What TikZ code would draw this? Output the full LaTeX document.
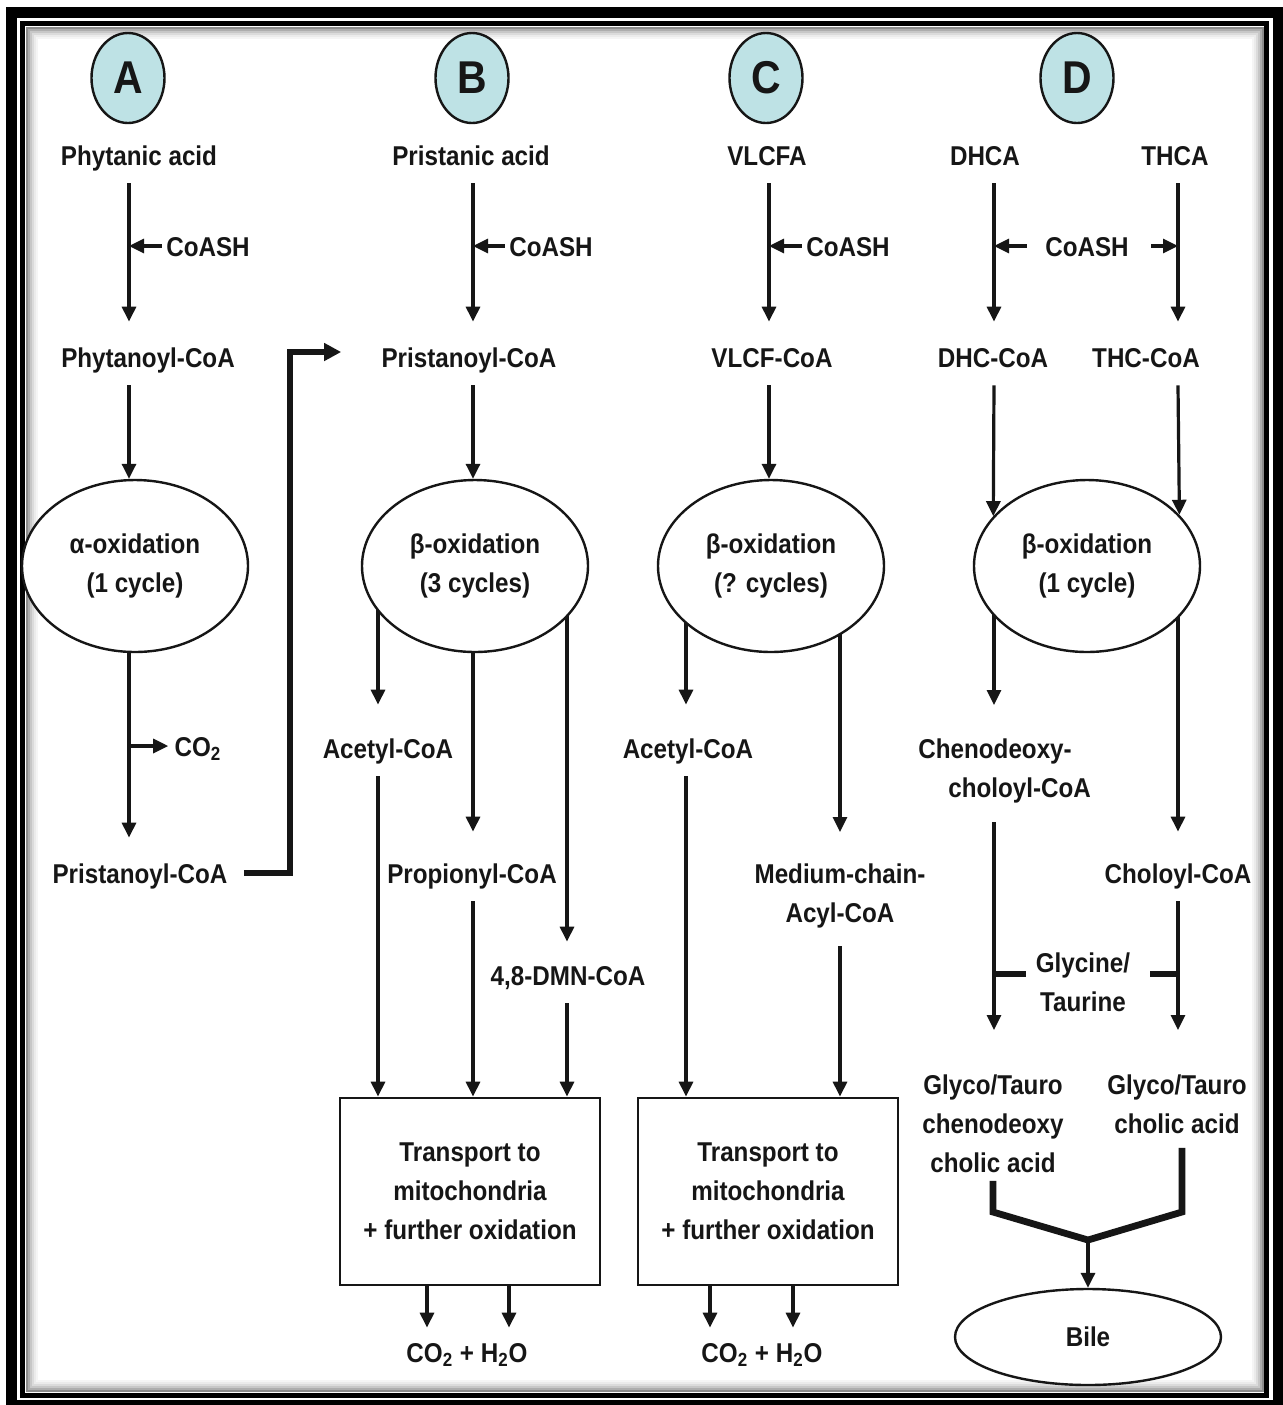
\documentclass[tikz,border=0pt]{standalone}
\usepackage{fontspec}
\setmainfont{Liberation Sans}[FakeStretch=0.89]
\usetikzlibrary{arrows.meta,shapes.geometric,backgrounds}
\definecolor{ink}{RGB}{22,22,22}
\definecolor{badgefill}{RGB}{190,226,229}

\begin{document}
\begin{tikzpicture}[x=0.5pt,y=-0.5pt,
  lbl/.style={font=\bfseries\fontsize{13.6}{19.5}\selectfont, text=ink},
  txt/.style={lbl, text height=10pt, text depth=0pt, inner ysep=9pt, inner xsep=2pt},
  mtxt/.style={lbl, align=center, inner ysep=0pt, inner xsep=2pt},
  badge/.style={ellipse, draw=ink, line width=1.2pt, fill=badgefill,
    minimum width=36.5pt, minimum height=45pt, inner sep=0pt,
    font=\bfseries\fontsize{23}{23}\selectfont, text=ink},
  oval/.style={mtxt, ellipse, draw=ink, line width=1.2pt, fill=white,
    minimum width=113pt, minimum height=86pt, inner sep=0pt},
  panel/.style={mtxt, rectangle, draw=ink, line width=1.4pt, fill=white,
    minimum width=130pt, minimum height=93.5pt, inner sep=0pt},
  arr/.style={draw=ink, line width=1.6pt, -{Triangle[length=7.5pt,width=7pt]}, shorten >=3.5pt},
  heavy/.style={draw=ink, line width=3.4pt, line join=miter},
  heavyarr/.style={heavy, -{Triangle[length=8.5pt,width=8.5pt]}}
]
\useasboundingbox (0,0) rectangle (1283,1405);

% double frame with inner shade
\begin{scope}[on background layer]
  \fill[black] (6,7) rectangle (1283,1405);
  \fill[white] (17,18) rectangle (1273,1400);
  \draw[black, line width=2.5pt] (22.5,23.5) rectangle (1266.5,1395);
  \foreach \d/\c in {4/45,6/32,8/22,10/14,12/8,14/4}
    \draw[black!\c, line width=1pt] (22.5+\d,23.5+\d) rectangle (1266.5-\d,1395-\d);
\end{scope}

% column positions of the vertical connectors
\foreach \n/\x in {xA/129, xBa/378, xB/473, xBd/567, xCa/686, xC/769, xCm/840,
                   xDl/994, xDr/1178, xO1/427, xO2/509, xO3/710, xO4/793, xElb/290}
  \coordinate (\n) at (\x,0);
\coordinate (mL) at (993,1212);
\coordinate (mR) at (1182,1212);
\coordinate (merge) at (1088,1240);

% pathway badges
\node[badge] (bA) at (128,78) {A};
\node[badge] (bB) at (472,78) {B};
\node[badge] (bC) at (766,78) {C};
\node[badge] (bD) at (1077,78) {D};

% substrates
\node[txt] (phy)  at (139,155) {Phytanic acid};
\node[txt] (pri)  at (471,155) {Pristanic acid};
\node[txt] (vlc)  at (767,155) {VLCFA};
\node[txt] (dhca) at (985,155) {DHCA};
\node[txt] (thca) at (1175,155) {THCA};

% CoASH activation
\node[txt] (coaA) at (208,246) {CoASH};
\node[txt] (coaB) at (551,246) {CoASH};
\node[txt] (coaC) at (848,246) {CoASH};
\node[txt] (coaD) at (1087,246) {CoASH};

% CoA esters
\node[txt] (phyCoA) at (148,357) {Phytanoyl-CoA};
\node[txt] (priCoA) at (469,357) {Pristanoyl-CoA};
\node[txt] (vlcCoA) at (772,357) {VLCF-CoA};
\node[txt] (dhcCoA) at (993,357) {DHC-CoA};
\node[txt] (thcCoA) at (1146,357) {THC-CoA};

% oxidation steps
\node[oval] (ellA) at (135,566) {α-oxidation\\(1 cycle)};
\node[oval] (ellB) at (475,566) {β-oxidation\\(3 cycles)};
\node[oval] (ellC) at (771,566) {β-oxidation\\(? cycles)};
\node[oval] (ellD) at (1087,566) {β-oxidation\\(1 cycle)};

% products
\node[txt] (co2A)    at (198,746) {CO\textsubscript{2}};
\node[txt] (priCoA2) at (140,873) {Pristanoyl-CoA};
\node[txt] (acB)     at (388,748) {Acetyl-CoA};
\node[txt] (propB)   at (472,873) {Propionyl-CoA};
\node[txt] (dmn)     at (568,975) {4,8-DMN-CoA};
\node[txt] (acC)     at (688,748) {Acetyl-CoA};
\node[mtxt, anchor=north] (med) at (840,863) {Medium-chain-\\Acyl-CoA};
\node[mtxt, align=left, anchor=north west] (chen) at (914,738)
  {Chenodeoxy-\\\hspace*{15pt}choloyl-CoA};
\node[txt] (chol) at (1178,873) {Choloyl-CoA};
\node[mtxt, anchor=north] (gly) at (1083,952) {Glycine/\\Taurine};
\node[mtxt, anchor=north] (gcA) at (993,1074) {Glyco/Tauro\\chenodeoxy\\cholic acid};
\node[mtxt, anchor=north] (gcB) at (1177,1074) {Glyco/Tauro\\cholic acid};

% mitochondrial oxidation
\node[panel] (panB) at (470,1191.5) {Transport to\\mitochondria\\+ further oxidation};
\node[panel] (panC) at (768,1191.5) {Transport to\\mitochondria\\+ further oxidation};
\node[txt] (cwB) at (467,1352) {CO\textsubscript{2} + H\textsubscript{2}O};
\node[txt] (cwC) at (762,1352) {CO\textsubscript{2} + H\textsubscript{2}O};

% bile
\node[mtxt, ellipse, draw=ink, line width=1.2pt, fill=white, inner sep=0pt,
      minimum width=133pt, minimum height=48pt] (bile) at (1088,1337) {Bile};

\begin{scope}[on background layer]
  % A: phytanic acid
  \draw[arr] (phy.south -| xA) -- (phyCoA.north -| xA);
  \draw[arr, shorten >=0pt] (coaA.west) -- (coaA.west -| xA);
  \draw[arr, shorten >=0pt] (phyCoA.south -| xA) -- (ellA.north -| xA);
  \draw[arr] (ellA.center -| xA) -- (priCoA2.north -| xA);
  \draw[arr, shorten >=1pt] (co2A.west -| xA) -- (co2A.west);
  \draw[heavyarr, shorten <=6pt, shorten >=18pt]
    (priCoA2.east) -| ([yshift=2.5pt]priCoA.west -| xElb) -- ([yshift=2.5pt]priCoA.west);

  % B: pristanic acid
  \draw[arr] (pri.south -| xB) -- (priCoA.north -| xB);
  \draw[arr, shorten >=0pt] (coaB.west) -- (coaB.west -| xB);
  \draw[arr, shorten >=0pt] (priCoA.south -| xB) -- (ellB.north -| xB);
  \draw[arr, shorten >=7.5pt] (ellB.center -| xBa) -- (acB.north -| xBa);
  \draw[arr, shorten >=6.5pt] (ellB.center -| xB) -- (propB.north -| xB);
  \draw[arr, shorten >=2.5pt] (ellB.center -| xBd) -- (dmn.north -| xBd);
  \draw[arr, shorten >=0pt] (acB.south -| xBa) -- (panB.north -| xBa);
  \draw[arr, shorten >=0pt] (propB.south -| xB) -- (panB.north -| xB);
  \draw[arr, shorten >=0pt] (dmn.south -| xBd) -- (panB.north -| xBd);
  \draw[arr, shorten >=-2pt] (panB.south -| xO1) -- (cwB.north -| xO1);
  \draw[arr, shorten >=-2pt] (panB.south -| xO2) -- (cwB.north -| xO2);

  % C: very long chain fatty acids
  \draw[arr] (vlc.south -| xC) -- (vlcCoA.north -| xC);
  \draw[arr, shorten >=0pt] (coaC.west) -- (coaC.west -| xC);
  \draw[arr, shorten >=0pt] (vlcCoA.south -| xC) -- (ellC.north -| xC);
  \draw[arr, shorten >=7.5pt] (ellC.center -| xCa) -- (acC.north -| xCa);
  \draw[arr, shorten >=15.5pt] (ellC.center -| xCm) -- (med.north -| xCm);
  \draw[arr, shorten >=0pt] (acC.south -| xCa) -- (panC.north -| xCa);
  \draw[arr, shorten <=9pt, shorten >=0pt] (med.south -| xCm) -- (panC.north -| xCm);
  \draw[arr, shorten >=-2pt] (panC.south -| xO3) -- (cwC.north -| xO3);
  \draw[arr, shorten >=-2pt] (panC.south -| xO4) -- (cwC.north -| xO4);

  % D: bile acid intermediates
  \draw[arr] (dhca.south -| xDl) -- (dhcCoA.north -| xDl);
  \draw[arr] (thca.south -| xDr) -- (thcCoA.north -| xDr);
  \draw[arr, shorten <=7pt, shorten >=0pt] (coaD.west) -- (coaD.west -| xDl);
  \draw[arr, shorten <=9pt, shorten >=0pt] (coaD.east) -- (coaD.east -| xDr);
  \draw[arr, shorten >=0pt] (dhcCoA.south -| xDl) -- (ellD.152.3);
  \draw[arr, shorten >=0pt] (thcCoA.south -| xDr) -- (ellD.29.3);
  \draw[arr, shorten >=16.5pt] (ellD.center -| xDl) -- (chen.north -| xDl);
  \draw[arr, shorten >=6.5pt] (ellD.center -| xDr) -- (chol.north -| xDr);
  \draw[arr, shorten <=9.5pt, shorten >=22pt] (chen.south -| xDl) -- (gcA.north -| xDl);
  \draw[arr, shorten >=22pt] (chol.south -| xDr) -- (gcB.north -| xDr);
  \draw[heavy, shorten <=3pt] ([yshift=4pt]gly.west) -- ([yshift=4pt]gly.west -| xDl);
  \draw[heavy, shorten <=8pt] ([yshift=4pt]gly.east) -- ([yshift=4pt]gly.east -| xDr);
  \draw[heavy] ([yshift=-4pt]gcA.south) -- (gcA.south |- mL) -- (merge) -- (mR)
    -- ([yshift=-7pt]gcB.south -| mR);
  \draw[arr, shorten >=0pt] (merge) -- (bile.north);
\end{scope}
\end{tikzpicture}
\end{document}
